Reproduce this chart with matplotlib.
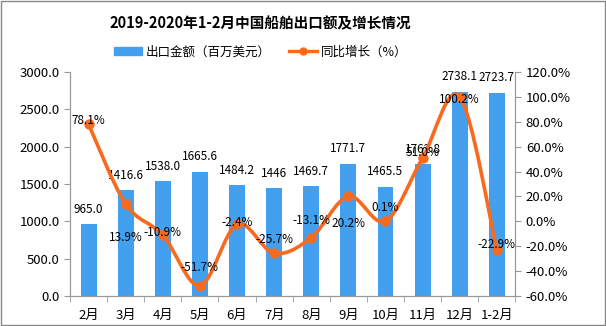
import matplotlib
matplotlib.use('Agg')
import matplotlib.pyplot as plt
from matplotlib.path import Path
from matplotlib.patches import PathPatch, Rectangle
from matplotlib.lines import Line2D
import numpy as np

plt.rcParams['font.family'] = ['Noto Sans CJK SC', 'DejaVu Sans']

# data
months = ['2月', '3月', '4月', '5月', '6月', '7月', '8月', '9月', '10月', '11月', '12月', '1-2月']
export_value = [965.0, 1416.6, 1538.0, 1665.6, 1484.2, 1446, 1469.7, 1771.7, 1465.5, 1762.8, 2738.1, 2723.7]
export_labels = ['965.0', '1416.6', '1538.0', '1665.6', '1484.2', '1446', '1469.7', '1771.7', '1465.5', '1762.8', '2738.1', '2723.7']
growth = [78.1, 13.9, -10.9, -51.7, -2.4, -25.7, -13.1, 20.2, 0.1, 51.0, 100.2, -22.9]

# vertical offset of each growth label (points, + is up)
lab_dy = [3, -24, 2, 13, 1, 10, 12, -20, 10, 4, -2, 4]

bar_color = '#42A0EE'
line_color = '#FA6A1E'

fig = plt.figure(figsize=(6.06, 3.26), dpi=100)
ax = fig.add_axes([0.1155, 0.092, 0.735, 0.687])
ax2 = ax.twinx()

x = np.arange(len(months))
ax.bar(x, export_value, width=0.43, color=bar_color, zorder=2)
for xi, v, s in zip(x, export_value, export_labels):
    ax.annotate(s, (xi, v), xytext=(0, 6), textcoords='offset points',
                ha='center', va='bottom', fontsize=8.5)

ax.set_xlim(-0.5, len(months) - 0.5)
ax.set_ylim(0, 3000)
ax.set_yticks(np.arange(0, 3001, 500))
ax.set_yticklabels(['%.1f' % t for t in np.arange(0, 3001, 500)], fontsize=9.5)
ax.set_xticks(x)
ax.set_xticklabels(months, fontsize=9.5)
ax.set_xticks(np.arange(-0.5, len(months), 1), minor=True)
ax.tick_params(axis='x', which='major', length=0, pad=9)
ax.tick_params(axis='x', which='minor', length=4, color='#999999')
ax.tick_params(axis='y', length=4, color='#999999')

ax2.set_ylim(-60, 120)
ax2.set_yticks(np.arange(-60, 121, 20))
ax2.set_yticklabels(['%.1f%%' % t for t in np.arange(-60, 121, 20)], fontsize=9.5)
ax2.tick_params(axis='y', length=4, color='#999999')

for a in (ax, ax2):
    a.spines['top'].set_visible(False)
    for side in ('left', 'right', 'bottom'):
        a.spines[side].set_color('#999999')

# smoothed line (Catmull-Rom as cubic bezier segments)
pts = np.column_stack([x, growth]).astype(float)
verts = [tuple(pts[0])]
codes = [Path.MOVETO]
n = len(pts)
for i in range(n - 1):
    p0 = pts[max(i - 1, 0)]
    p1 = pts[i]
    p2 = pts[i + 1]
    p3 = pts[min(i + 2, n - 1)]
    c1 = p1 + (p2 - p0) / 6.0
    c2 = p2 - (p3 - p1) / 6.0
    verts += [tuple(c1), tuple(c2), tuple(p2)]
    codes += [Path.CURVE4] * 3
ax2.add_patch(PathPatch(Path(verts, codes), facecolor='none', edgecolor=line_color,
                        lw=2.6, zorder=3))
ax2.plot(x, growth, 'o', color=line_color, markersize=6.5, zorder=4)
for xi, g, dy in zip(x, growth, lab_dy):
    ax2.annotate('%.1f%%' % g, (xi, g), xytext=(0, dy), textcoords='offset points',
                 ha='center', va='center', fontsize=8.5, zorder=5)

fig.text(0.43, 0.93, '2019-2020年1-2月中国船舶出口额及增长情况', ha='center', va='center',
         fontsize=10.5, fontweight='bold')

handles = [Rectangle((0, 0), 1, 1, color=bar_color),
           Line2D([0], [0], color=line_color, lw=2.4, marker='o', markersize=5)]
fig.legend(handles, ['出口金额（百万美元）', '同比增长（%）'], loc='center',
           bbox_to_anchor=(0.43, 0.84), ncol=2, frameon=False, fontsize=9,
           handlelength=2.2, handleheight=0.6, columnspacing=1.5, handletextpad=0.3)

fig.patches.append(Rectangle((0.001, 0.002), 0.997, 0.995, transform=fig.transFigure,
                             fill=False, edgecolor='#888888', lw=1))

fig.savefig('out.png', dpi=100)
